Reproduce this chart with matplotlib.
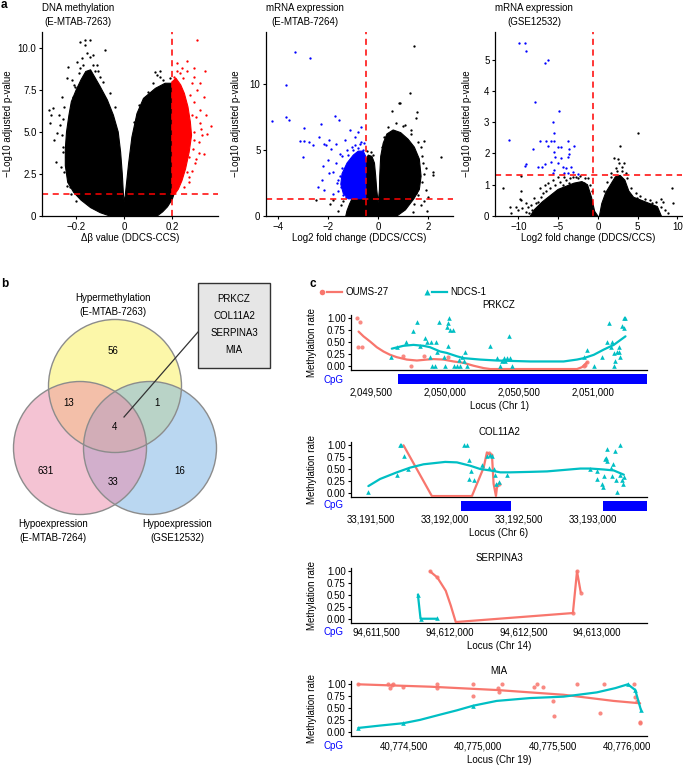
import numpy as np
import matplotlib
matplotlib.use("Agg")
import matplotlib.pyplot as plt
from matplotlib.patches import Polygon, Circle, Rectangle
from matplotlib.ticker import FuncFormatter

plt.rcParams['font.family'] = ['Liberation Sans', 'DejaVu Sans']
plt.rcParams['font.size'] = 7
plt.rcParams['axes.linewidth'] = 0.9

# ------------------------------------------------------------------ data
# panel a-1 : DNA methylation volcano (dense cloud outlines + sparse points)
meth_cloud_x = [-0.06, -0.10, -0.14, -0.18, -0.21, -0.235, -0.245, -0.245, -0.24, -0.23,
                -0.22, -0.20, -0.18, -0.16, -0.14, -0.12, -0.10, -0.07, -0.045, -0.025,
                -0.015, -0.008, -0.003, 0.0, 0.004, 0.01, 0.018, 0.032, 0.053, 0.08,
                0.13, 0.17, 0.20, 0.20, 0.207, 0.20, 0.18, 0.16, 0.137]
meth_cloud_y = [0.0, 0.2, 0.5, 0.95, 1.4, 2.0, 3.0, 4.0, 5.0, 6.0,
                6.8, 7.5, 8.1, 8.6, 8.7, 8.2, 7.7, 6.9, 6.0, 5.0,
                3.8, 2.5, 1.2, 0.85, 1.2, 2.0, 3.1, 4.7, 6.1, 7.0,
                7.6, 7.9, 7.9, 1.3, 1.3, 1.0, 0.55, 0.25, 0.0]
meth_red_cloud_x = [0.2, 0.2, 0.215, 0.235, 0.25, 0.265, 0.275, 0.28, 0.27, 0.255, 0.24, 0.225, 0.21]
meth_red_cloud_y = [1.3, 8.0, 8.2, 7.8, 7.3, 6.5, 5.6, 4.8, 3.8, 2.8, 2.1, 1.6, 1.3]
meth_black_x = [-0.311, -0.306, -0.297, -0.308, -0.26, -0.239, -0.183, -0.165, -0.142, -0.163,
                -0.079, -0.177, -0.197, -0.142, -0.269, -0.253, -0.242, -0.28, -0.294, -0.232,
                -0.218, -0.114, -0.121, -0.10, -0.204, 0.129, 0.147, 0.136, 0.15, 0.053, 0.185,
                -0.25, -0.255, -0.26, -0.255, -0.25, -0.24, -0.22, -0.20, -0.27, -0.21,
                -0.19, -0.17, -0.13, -0.11, -0.09, -0.06, -0.04, -0.13, -0.155, 0.10,
                0.12, 0.16, 0.19, 0.06, 0.04, -0.285, -0.265, -0.215, -0.185, -0.225]
meth_black_y = [6.31, 6.01, 6.41, 5.52, 7.11, 8.2, 10.38, 10.48, 10.48, 10.18,
                9.88, 9.39, 9.19, 9.48, 5.42, 4.13, 3.53, 4.92, 4.52, 8.89,
                8.1, 8.99, 8.6, 8.3, 7.7, 8.59, 8.65, 8.39, 8.25, 6.01, 7.62,
                6.5, 5.8, 4.8, 3.8, 2.6, 1.8, 1.3, 0.9, 6.0, 7.8,
                8.5, 9.0, 9.0, 8.6, 8.0, 7.3, 6.5, 9.6, 9.7, 7.4,
                7.9, 8.1, 8.2, 6.6, 5.6, 3.2, 2.9, 7.1, 8.8, 1.7]
meth_red_x = [0.303, 0.337, 0.289, 0.24, 0.26, 0.361, 0.324, 0.31, 0.296, 0.268,
              0.317, 0.303, 0.282, 0.33, 0.205, 0.219, 0.317, 0.289,
              0.28, 0.29, 0.285, 0.27, 0.26, 0.29, 0.30, 0.275, 0.245, 0.31,
              0.30, 0.27, 0.25, 0.23, 0.22, 0.26, 0.29, 0.315, 0.34, 0.32,
              0.345, 0.33, 0.28]
meth_red_y = [10.48, 8.6, 8.8, 8.8, 8.6, 5.36, 4.82, 3.73, 3.13, 2.33,
              6.3, 7.5, 7.9, 7.1, 8.3, 8.6, 5.52, 4.52,
              6.0, 5.0, 4.0, 3.5, 2.6, 6.8, 5.9, 7.2, 8.2, 4.4,
              3.4, 2.0, 1.7, 8.5, 9.1, 9.2, 8.3, 7.9, 6.0, 5.2,
              4.9, 3.7, 2.7]

# panel a-2 : mRNA expression E-MTAB-7264
emtab_cloud_x = [-1.3, -1.25, -1.15, -1.05, -0.5, -0.5, -0.4, -0.25, -0.15, -0.1, -0.06, 0.0, 0.05,
                 0.06, 0.1, 0.2, 0.35, 0.6, 0.9, 1.2, 1.45, 1.65, 1.72, 1.65, 1.43, 1.09, 0.75]
emtab_cloud_y = [0.0, 0.4, 0.9, 1.3, 1.3, 4.2, 4.6, 4.5, 4.0, 3.0, 2.0, 1.0, 2.0,
                 3.0, 4.5, 5.5, 6.2, 6.5, 6.3, 5.8, 5.2, 4.3, 3.0, 2.0, 1.3, 0.46, 0.0]
emtab_blue_cloud_x = [-0.5, -0.5, -0.6, -0.8, -1.0, -1.25, -1.45, -1.5, -1.4, -1.2]
emtab_blue_cloud_y = [1.3, 4.5, 4.9, 4.9, 4.6, 4.0, 3.2, 2.4, 1.7, 1.3]
emtab_blue_x = [-4.27, -3.70, -3.56, -3.68, -3.32, -2.75, -2.98, -3.0, -3.14, -2.96, -2.79, -2.6,
                -2.29, -1.75, -1.59, -0.68, -1.15, -2.25, -2.43, -1.82, -2.36, -2.16, -1.96, -2.09,
                -1.89, -1.69, -1.55, -1.34, -1.07, -0.94, -0.8, -0.73, -2.22, -2.02, -1.96, -2.16, -1.62,
                -1.45, -1.55, -1.5, -1.4, -1.2, -1.0, -0.8, -0.6, -1.7, -1.8, -1.65, -1.3, -1.6,
                -0.55, -0.7, -0.95, -1.25, -1.45]
emtab_blue_y = [7.17, 7.45, 7.27, 9.92, 12.37, 11.92, 6.67, 4.44, 5.66, 5.66, 5.59, 5.4,
                6.93, 7.59, 7.24, 6.73, 6.48, 2.73, 2.22, 1.64, 5.97, 5.45, 5.71, 5.33,
                5.07, 5.45, 4.68, 5.71, 5.2, 6.0, 6.38, 5.45, 3.75, 4.26, 3.25, 1.97, 2.73,
                3.6, 3.0, 2.2, 1.6, 4.6, 5.0, 5.1, 5.0, 4.0, 3.3, 2.5, 1.4, 1.9,
                5.5, 5.6, 5.4, 5.0, 4.5]
emtab_black_x = [1.44, 1.27, 0.82, 0.89, 0.55, 1.5, 1.54, 1.09, 1.83, 2.51, 2.2, 2.2, 1.9,
                 1.3, 1.7, 1.77, 1.57, 1.5, -2.49, -1.95, -1.25, 1.43, 1.84, 1.97,
                 1.8, 1.85, 1.75, 1.6, 1.3, 1.0, 0.7, 0.4, 0.25, 0.15, 1.9, 1.6, 2.0, 1.7,
                 1.4, -1.5, -1.6, -1.4, -1.8, -0.45, -0.3, -0.2]
emtab_black_y = [12.88, 9.29, 8.54, 8.54, 7.91, 7.4, 7.86, 6.9, 5.66, 4.42, 3.36, 3.06, 3.61,
                 6.5, 5.25, 4.5, 2.22, 1.72, 1.2, 0.9, 0.3, 0.9, 1.1, 0.4,
                 4.0, 3.2, 2.6, 5.6, 6.2, 6.8, 7.0, 6.7, 6.0, 5.2, 2.0, 1.6, 1.4, 0.8,
                 0.3, 0.8, 0.4, 1.1, 1.2, 4.9, 4.8, 4.6]

# panel a-3 : mRNA expression GSE12532
gse_left_x = [-8.5, -8.0, -7.0, -6.0, -5.0, -4.0, -3.0, -2.0, -1.3, -0.8, -0.4, 0.0]
gse_left_y = [0.0, 0.2, 0.45, 0.65, 0.85, 0.95, 1.05, 1.1, 1.0, 0.6, 0.15, 0.0]
gse_right_x = [0.2, 0.5, 1.0, 1.6, 2.2, 2.8, 3.4, 3.9, 4.5, 5.5, 6.5, 7.5, 8.0]
gse_right_y = [0.0, 0.4, 0.75, 1.0, 1.25, 1.3, 1.15, 0.8, 0.6, 0.5, 0.4, 0.3, 0.0]
gse_black_x = [5.12, 2.78, 2.0, 2.5, 2.7, 3.1, 3.3, 3.5, 2.28, 1.65, -9.73,
               -12.0, -9.72, -9.64, -9.0, -7.99, -8.4, -7.55, -6.92, -6.71, -6.3, -5.67, -7.3,
               -5.05, -4.2, -3.16, -2.53, -3.58, -4.42, -1.7, -1.28, -9.0, -10.25, -10.9,
               3.9, 4.5, 4.9, 5.5, 6.2, 6.8, 7.2, 7.9, 8.2, 9.39, 9.5,
               -8.7, -8.3, -8.8, -7.8, -7.2, -6.5, -6.0, -5.4, -4.8, -4.0, -3.5, -2.8, -2.2,
               -1.6, -1.0, -0.7, -10.0, -9.5, -11.0, -9.8,
               0.8, 1.2, 1.6, 3.7, 4.2, 4.8, 5.3, 5.9, 6.6, 7.3, 8.0, 8.5, 8.8, 2.4, 3.0]
gse_black_y = [2.64, 2.24, 1.84, 1.81, 1.68, 1.57, 1.68, 1.36, 1.52, 1.36, 1.28,
               0.88, 0.81, 0.51, 0.4, 0.56, 0.35, 0.46, 0.72, 0.99, 1.04, 1.15, 0.88,
               1.26, 1.25, 1.26, 1.2, 1.04, 0.99, 1.04, 1.2, 0.14, 0.3, 0.09,
               0.62, 0.46, 0.56, 0.4, 0.3, 0.4, 0.25, 0.53, 0.46, 0.9, 0.43,
               0.1, 0.2, 0.3, 0.4, 0.6, 0.8, 0.9, 1.0, 1.1, 1.15, 1.2, 1.25, 1.28,
               1.2, 1.0, 0.8, 0.2, 0.25, 0.3, 0.55,
               0.8, 1.1, 1.25, 1.2, 0.9, 0.75, 0.65, 0.55, 0.5, 0.45, 0.3, 0.2, 0.1, 1.45, 1.45]
gse_blue_x = [-9.97, -9.14, -9.01, -6.71, -6.3, -7.97, -4.84, -5.67, -5.58, -11.23, -7.22, -8.18,
              -6.5, -6.3, -5.88, -5.55, -3.79, -3.58, -3.04, -9.22, -9.0, -7.55, -7.05, -6.71,
              -5.46, -5.38, -5.05, -4.63, -4.42, -4.0, -3.79, -3.58, -3.37, -3.16, -5.67, -5.46,
              -4.3, -3.79, -2.53, -4.96, -4.63, -5.96]
gse_blue_y = [5.52, 5.52, 5.27, 4.88, 4.98, 3.65, 3.35, 2.99, 2.64, 2.43, 2.4, 2.14,
              2.4, 2.25, 2.4, 2.4, 2.4, 2.14, 2.25, 1.61, 1.66, 1.55, 1.55, 1.65,
              2.05, 1.89, 1.68, 1.84, 1.57, 1.52, 1.89, 1.97, 1.57, 1.41, 1.36, 1.47,
              1.36, 1.36, 1.33, 2.21, 2.21, 1.73]

# panel b : Venn
venn_sets = ["Hypermethylation\n(E-MTAB-7263)", "Hypoexpression\n(E-MTAB-7264)", "Hypoexpression\n(GSE12532)"]
venn_counts = {"A": 56, "AB": 13, "AC": 1, "ABC": 4, "B": 631, "BC": 33, "C": 16}
common_genes = ["PRKCZ", "COL11A2", "SERPINA3", "MIA"]

# panel c : methylation tracks
prkcz_red_x = [2049410, 2049428, 2049417, 2049441, 2049720, 2049772, 2049860, 2050018, 2050935, 2050947, 2050958]
prkcz_red_y = [1.0, 0.92, 0.39, 0.39, 0.2, 0.0, 0.2, 0.18, 0.0, 0.02, 0.08]
prkcz_redfit_x = [2049418, 2049451, 2049496, 2049541, 2049586, 2049631, 2049676, 2049743, 2049811, 2049878,
                  2049923, 2049991, 2050058, 2050126, 2050193, 2050261, 2050306, 2050575, 2050890, 2050924,
                  2050947, 2050958]
prkcz_redfit_y = [0.72, 0.62, 0.51, 0.39, 0.30, 0.23, 0.18, 0.13, 0.11, 0.13,
                  0.14, 0.13, 0.09, 0.06, 0.0, -0.05, -0.07, -0.07, -0.07, -0.03,
                  0.04, 0.07]
prkcz_teal_x = [2049637, 2049676, 2049739, 2049784, 2049815, 2049829, 2049867, 2049878, 2049905, 2049941,
                2049901, 2049912, 2049934, 2049957, 2049946, 2049991, 2050002, 2050013, 2050029, 2050024,
                2050036, 2050054, 2050024, 2050058, 2050081, 2050103, 2050114, 2050137, 2050148, 2050126,
                2050092, 2050306, 2050351, 2050373, 2050396, 2050407, 2050418, 2050429, 2050441, 2050452,
                2050384, 2050936, 2050958, 2051003, 2051059, 2051093, 2051104, 2051116, 2051127, 2051138,
                2051149, 2051161, 2051172, 2051183, 2051194, 2051206, 2051206, 2051217, 2051172, 2051138]
prkcz_teal_y = [0.18, 0.39, 0.51, 0.73, 0.92, 0.41, 0.58, 0.51, 0.51, 0.51,
                0.18, 0.0, 0.0, 0.92, 0.30, 0.18, 0.0, 0.82, 1.0, 0.9,
                0.75, 0.75, 0.41, 0.0, 0.0, 0.0, 0.18, 0.30, 0.0, 0.09,
                0.13, 0.41, 0.16, 0.0, 0.16, 0.09, 0.16, 0.63, 0.16, 0.0,
                0.09, 0.18, 0.34, 0.0, 0.18, 0.51, 0.9, 0.39, 0.51, 0.0,
                0.09, 0.30, 0.30, 0.18, 0.83, 0.8, 1.0, 1.0, 0.39, 0.27]
prkcz_tealfit_x = [2049642, 2049720, 2049788, 2049856, 2049900, 2049968, 2050013, 2050080, 2050126, 2050238,
                   2050350, 2050576, 2050800, 2050890, 2050936, 2051003, 2051070, 2051138, 2051217]
prkcz_tealfit_y = [0.36, 0.42, 0.44, 0.42, 0.39, 0.30, 0.27, 0.20, 0.16, 0.13,
                   0.11, 0.09, 0.09, 0.13, 0.16, 0.23, 0.34, 0.44, 0.62]
prkcz_cpg_start = [2049684]
prkcz_cpg_end = [2051400]

col_red_x = [33192294, 33192312, 33192351, 33192362]
col_red_y = [0.83, 0.80, 0.17, 0.19]
col_redfit_x = [33191721, 33191912, 33192182, 33192261, 33192283, 33192301, 33192317, 33192328, 33192344, 33192351]
col_redfit_y = [1.0, -0.07, -0.07, 0.53, 0.85, 0.81, 0.80, 0.19, -0.07, 0.12]
col_teal_x = [33191484, 33191676, 33191698, 33191705, 33191721, 33191750, 33192126, 33192148, 33192159, 33192177,
              33192159, 33192193, 33192249, 33192283, 33192301, 33192317, 33192294, 33192328, 33192339, 33192346,
              33192362, 33192418, 33192981, 33193026, 33193026, 33193059, 33193066, 33193071, 33193082, 33193089,
              33193093, 33193093, 33193127, 33193120, 33193134, 33193149, 33193156, 33193161, 33193183, 33193183,
              33193194, 33193206, 33193201]
col_teal_y = [0.01, 0.38, 1.0, 1.0, 0.78, 0.51, 1.0, 1.0, 0.69, 0.45,
              0.28, 0.26, 0.58, 0.78, 0.8, 0.78, 0.53, 0.5, 0.38, 0.19,
              0.22, 0.38, 0.51, 0.45, 0.28, 0.19, 0.12, 0.36, 0.71, 0.74,
              0.92, 0.67, 0.36, 0.53, 0.6, 0.88, 0.26, 0.01, 1.0, 0.38,
              0.26, 0.33, 0.19]
col_tealfit_x = [33191484, 33191563, 33191676, 33191766, 33191856, 33192002, 33192081, 33192170, 33192238, 33192305,
                 33192373, 33192440, 33192576, 33192688, 33192801, 33192913, 33192981, 33193071, 33193138, 33193206]
col_tealfit_y = [0.14, 0.29, 0.43, 0.53, 0.6, 0.65, 0.64, 0.57, 0.5, 0.47,
                 0.43, 0.43, 0.44, 0.45, 0.48, 0.51, 0.51, 0.49, 0.47, 0.38]
col_cpg_start = [33192108, 33193065]
col_cpg_end = [33192445, 33193400]

serp_red_x = [94611866, 94611911, 94612837, 94612864, 94612889]
serp_red_y = [1.0, 0.89, 0.12, 1.0, 0.55]
serp_redfit_x = [94611866, 94611916, 94611973, 94612007, 94612041, 94612836, 94612864, 94612889]
serp_redfit_y = [1.0, 0.87, 0.59, 0.28, -0.07, 0.12, 1.0, 0.56]
serp_teal_x = [94611784, 94611802, 94611911]
serp_teal_y = [0.51, 0.0, 0.01]
serp_tealfit_x = [94611784, 94611802, 94611911]
serp_tealfit_y = [0.51, 0.0, 0.0]

mia_red_x = [40774193, 40774395, 40774406, 40774417, 40774428, 40774491, 40774720, 40774720, 40774966, 40774966,
             40775134, 40775141, 40775161, 40775374, 40775397, 40775433, 40775500, 40775509, 40775661, 40775818,
             40775841, 40776047, 40776054, 40776065, 40776083, 40776087]
mia_red_y = [1.0, 1.0, 0.93, 0.99, 1.0, 0.95, 1.0, 0.93, 1.0, 0.76,
             0.92, 0.83, 1.0, 0.95, 1.0, 0.94, 0.65, 0.34, 1.0, 0.39,
             1.0, 1.0, 0.74, 0.64, 0.2, 0.18]
mia_redfit_x = [40774193, 40774675, 40775123, 40775572, 40775908, 40776087]
mia_redfit_y = [1.0, 0.95, 0.88, 0.78, 0.65, 0.6]
mia_teal_x = [40774193, 40774496, 40774966, 40776004, 40776054, 40776092]
mia_teal_y = [0.08, 0.18, 0.55, 1.0, 0.88, 0.46]
mia_tealfit_x = [40774193, 40774339, 40774496, 40774608, 40774742, 40774854, 40774966, 40775123, 40775347,
                 40775572, 40775796, 40775920, 40776004, 40776054, 40776092]
mia_tealfit_y = [0.08, 0.13, 0.18, 0.25, 0.36, 0.45, 0.55, 0.65, 0.71,
                 0.74, 0.83, 0.92, 1.0, 0.88, 0.46]

# ------------------------------------------------------------------ figure
W, H = 683, 765
fig = plt.figure(figsize=(W / 100, H / 100), dpi=100)


def add_ax(x0, y0, x1, y1):
    return fig.add_axes([x0 / W, 1 - y1 / H, (x1 - x0) / W, (y1 - y0) / H])


def ftext(x, y, s, **kw):
    return fig.text(x / W, 1 - y / H, s, **kw)


RED = '#FF0000'
BLUE = '#0000FF'


def volcano(box, xlim, ylim, polys, pts, vx, hy, xt, xtl, yt, ytl, title, xlabel, ylab_x):
    x0, y0, x1, y1 = box
    ax = add_ax(x0, y0, x1, y1)
    for pxs, pys, col in polys:
        ax.add_patch(Polygon(np.column_stack([pxs, pys]), closed=True, fc=col, ec=col,
                             lw=0.8, joinstyle='round'))
    for pxs, pys, col in pts:
        ax.scatter(pxs, pys, s=2.8, c=col, linewidths=0)
    ax.axvline(vx, color=RED, lw=1.1, ls=(0, (4, 3)))
    ax.axhline(hy, color=RED, lw=1.1, ls=(0, (4, 3)))
    ax.set_xlim(xlim)
    ax.set_ylim(ylim)
    ax.set_xticks(xt)
    ax.set_xticklabels(xtl)
    ax.set_yticks(yt)
    ax.set_yticklabels(ytl)
    for s in ['top', 'right']:
        ax.spines[s].set_visible(False)
    ax.tick_params(length=2.5, width=0.8, pad=1.5, labelsize=7)
    ftext(x0, 3, title, ha='left', va='top', multialignment='center', linespacing=1.45)
    ftext((x0 + x1) / 2, 238, xlabel, ha='center', va='center')
    ftext(ylab_x, (y0 + y1) / 2, '\u2212Log10 adjusted p-value', rotation=90, ha='center', va='center')
    return ax


volcano((42, 32, 218, 216), (-0.342, 0.39), (0, 10.95),
        [(meth_cloud_x, meth_cloud_y, 'black'), (meth_red_cloud_x, meth_red_cloud_y, RED)],
        [(meth_black_x, meth_black_y, 'black'), (meth_red_x, meth_red_y, RED)],
        0.2, 1.3, [-0.2, 0, 0.2], ['\u22120.2', '0', '0.2'],
        [0, 2.5, 5, 7.5, 10], ['0', '2.5', '5.0', '7.5', '10.0'],
        'DNA methylation\n(E-MTAB-7263)', '\u0394\u03b2 value (DDCS-CCS)', 8)

volcano((266, 32, 453, 216), (-4.5, 3.0), (0, 13.9),
        [(emtab_cloud_x, emtab_cloud_y, 'black'), (emtab_blue_cloud_x, emtab_blue_cloud_y, BLUE)],
        [(emtab_black_x, emtab_black_y, 'black'), (emtab_blue_x, emtab_blue_y, BLUE)],
        -0.5, 1.3, [-4, -2, 0, 2], ['\u22124', '\u22122', '0', '2'],
        [0, 5, 10], ['0', '5', '10'],
        'mRNA expression\n(E-MTAB-7264)', 'Log2 fold change (DDCS/CCS)', 236)

volcano((495, 32, 682, 216), (-12.95, 10.6), (0, 5.88),
        [(gse_left_x, gse_left_y, 'black'), (gse_right_x, gse_right_y, 'black')],
        [(gse_black_x, gse_black_y, 'black'), (gse_blue_x, gse_blue_y, BLUE)],
        -0.55, 1.3, [-10, -5, 0, 5, 10], ['\u221210', '\u22125', '0', '5', '10'],
        [0, 1, 2, 3, 4, 5], ['0', '1', '2', '3', '4', '5'],
        'mRNA expression\n(GSE12532)', 'Log2 fold change (DDCS/CCS)', 467)

# ------------------------------------------------------------------ panel b
axb = add_ax(0, 270, 320, 570)
axb.set_xlim(0, 320)
axb.set_ylim(570, 270)
axb.axis('off')
R = 66.5
circ = {"A": ((115, 386), '#FBF155'), "C": ((150, 448), '#77B1E5'), "B": ((80, 448), '#EB89A9')}
for key in ["A", "C", "B"]:
    c, col = circ[key]
    axb.add_patch(Circle(c, R, fc=col, ec='none', alpha=0.5))
for key in ["A", "C", "B"]:
    c, col = circ[key]
    axb.add_patch(Circle(c, R, fc='none', ec='#8C8C8C', lw=1.0))
count_pos = {"A": (113, 351), "AB": (69, 403), "AC": (157, 403), "ABC": (114, 427),
             "B": (46, 471), "BC": (113, 482), "C": (180, 471)}
for k, v in venn_counts.items():
    axb.text(*count_pos[k], str(v), ha='center', va='center', fontsize=7)
axb.text(113, 305, venn_sets[0], ha='center', va='center', fontsize=7, linespacing=1.5)
axb.text(53, 531, venn_sets[1], ha='center', va='center', fontsize=7, linespacing=1.5)
axb.text(177, 531, venn_sets[2], ha='center', va='center', fontsize=7, linespacing=1.5)
axb.add_patch(Rectangle((198, 283), 72, 85, fc='#E6E6E6', ec='#333333', lw=1.0))
for i, g in enumerate(common_genes):
    axb.text(234, 299 + i * 17, g, ha='center', va='center', fontsize=7)
axb.plot([124, 198], [417, 332], color='#333333', lw=0.9)

# ------------------------------------------------------------------ panel c
RED_C = '#F8766D'
TEAL = '#00BFC4'

axl = add_ax(310, 283, 520, 301)
axl.set_xlim(310, 520)
axl.set_ylim(301, 283)
axl.axis('off')
axl.plot([322], [292], 'o', color=RED_C, ms=4, mec='none')
axl.plot([327, 342], [292, 292], color=RED_C, lw=1.6)
axl.text(346, 292, 'OUMS-27', ha='left', va='center', fontsize=7)
axl.plot([427], [292], '^', color=TEAL, ms=4.5, mec='none')
axl.plot([432, 447], [292, 292], color=TEAL, lw=1.6)
axl.text(450, 292, 'NDCS-1', ha='left', va='center', fontsize=7)


def track(top, xlim, xt, red, redfit, teal, tealfit, cpg, title, locus, tick_y, cpg_y, has_bar):
    bottom = top + 55
    ax = add_ax(351, top, 647, bottom)
    ax.scatter(red[0], red[1], s=9, c=RED_C, marker='o', linewidths=0, zorder=2, alpha=0.85)
    ax.plot(redfit[0], redfit[1], color=RED_C, lw=1.6, zorder=3, solid_capstyle='round', solid_joinstyle='round')
    ax.scatter(teal[0], teal[1], s=11, c=TEAL, marker='^', linewidths=0, zorder=4)
    ax.plot(tealfit[0], tealfit[1], color=TEAL, lw=1.6, zorder=5, solid_capstyle='round', solid_joinstyle='round')
    ax.set_xlim(xlim)
    ax.set_ylim(-0.09, 1.07)
    ax.set_yticks([0, 0.25, 0.5, 0.75, 1.0])
    ax.set_yticklabels(['0.00', '0.25', '0.50', '0.75', '1.00'])
    ax.set_xticks(xt)
    ax.xaxis.set_major_formatter(FuncFormatter(lambda v, p: f"{int(round(v)):,}"))
    for s in ['top', 'right']:
        ax.spines[s].set_visible(False)
    ax.tick_params(axis='y', length=2.5, width=0.8, pad=1.2, labelsize=7)
    pad_px = tick_y - 4.8 - bottom
    ax.tick_params(axis='x', length=0, pad=pad_px * 0.72, labelsize=7)
    if has_bar:
        axc = add_ax(351, bottom + 4, 647, bottom + 14)
        axc.set_xlim(xlim)
        axc.set_ylim(0, 1)
        axc.axis('off')
        for s0, s1 in zip(cpg[0], cpg[1]):
            axc.axvspan(s0, s1, color=BLUE, lw=0)
    ftext(344, cpg_y, 'CpG', ha='right', va='center', color=BLUE, fontsize=7)
    ftext(499, top - 10, title, ha='center', va='center', fontsize=7)
    ftext(499, tick_y + 14, locus, ha='center', va='center', fontsize=7)
    ftext(312, (top + bottom) / 2, 'Methylation rate', rotation=90, ha='center', va='center', fontsize=7)
    return ax


track(315, (2049367, 2051362), [2049500, 2050000, 2050500, 2051000],
      (prkcz_red_x, prkcz_red_y), (prkcz_redfit_x, prkcz_redfit_y),
      (prkcz_teal_x, prkcz_teal_y), (prkcz_tealfit_x, prkcz_tealfit_y),
      (prkcz_cpg_start, prkcz_cpg_end), 'PRKCZ', 'Locus (Chr 1)', 392, 380, True)
track(442, (33191367, 33193362), [33191500, 33192000, 33192500, 33193000],
      (col_red_x, col_red_y), (col_redfit_x, col_redfit_y),
      (col_teal_x, col_teal_y), (col_tealfit_x, col_tealfit_y),
      (col_cpg_start, col_cpg_end), 'COL11A2', 'Locus (Chr 6)', 519, 505.5, True)
track(568, (94611330, 94613339), [94611500, 94612000, 94612500, 94613000],
      (serp_red_x, serp_red_y), (serp_redfit_x, serp_redfit_y),
      (serp_teal_x, serp_teal_y), (serp_tealfit_x, serp_tealfit_y),
      ([], []), 'SERPINA3', 'Locus (Chr 14)', 632, 632, False)
track(681, (40774144, 40776133), [40774500, 40775000, 40775500, 40776000],
      (mia_red_x, mia_red_y), (mia_redfit_x, mia_redfit_y),
      (mia_teal_x, mia_teal_y), (mia_tealfit_x, mia_tealfit_y),
      ([], []), 'MIA', 'Locus (Chr 19)', 746, 746, False)

# panel letters
ftext(1, 5, 'a', ha='left', va='center', fontsize=8.5, fontweight='bold')
ftext(1, 284, 'b', ha='left', va='center', fontsize=8.5, fontweight='bold')
ftext(310, 284, 'c', ha='left', va='center', fontsize=8.5, fontweight='bold')

fig.savefig('out.png', dpi=100)
